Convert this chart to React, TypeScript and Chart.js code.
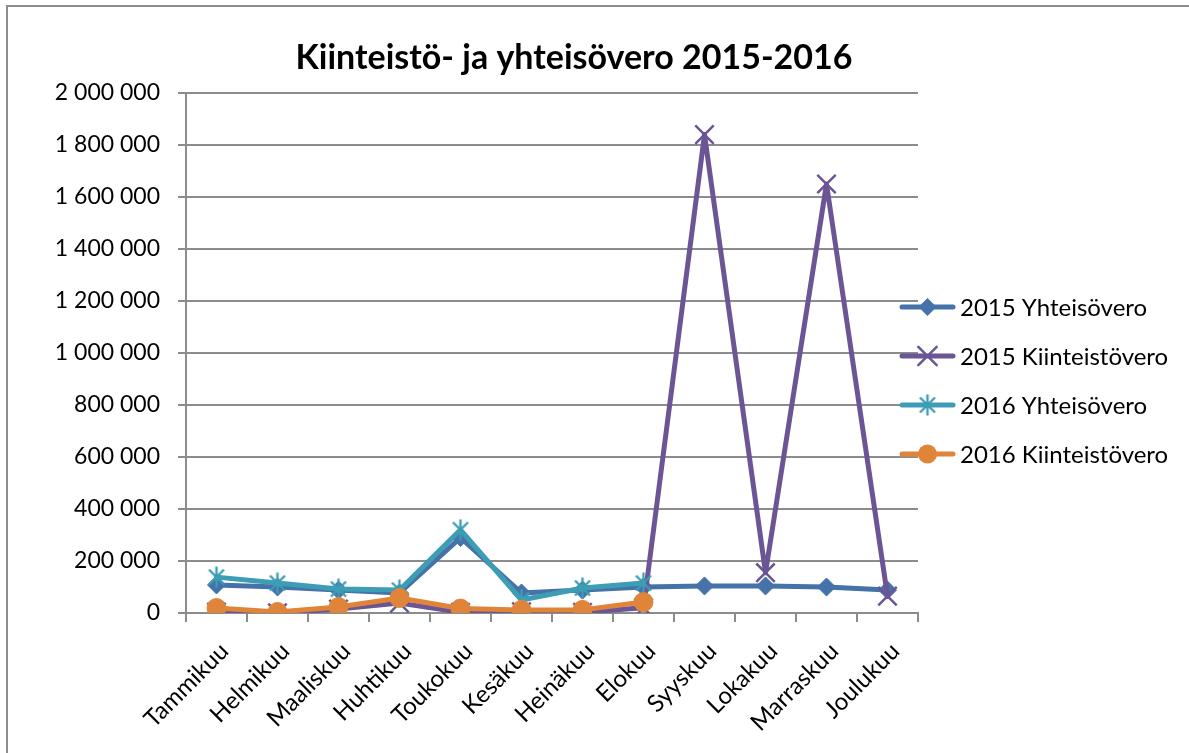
import { useEffect, useRef } from 'react';
import { Chart, registerables } from 'chart.js';

Chart.register(...registerables);

const chartTitle = 'Kiinteistö- ja yhteisövero 2015-2016';
const months = ['Tammikuu', 'Helmikuu', 'Maaliskuu', 'Huhtikuu', 'Toukokuu', 'Kesäkuu', 'Heinäkuu', 'Elokuu', 'Syyskuu', 'Lokakuu', 'Marraskuu', 'Joulukuu'];
const seriesLabels = ['2015 Yhteisövero', '2015 Kiinteistövero', '2016 Yhteisövero', '2016 Kiinteistövero'];
const yhteisovero2015 = [108000, 100000, 88000, 77000, 290000, 77000, 88000, 100000, 104000, 104000, 100000, 88000];
const kiinteistovero2015 = [4000, 1000, 15000, 38000, 3000, 5000, 3000, 20000, 1840000, 155000, 1650000, 65000];
const yhteisovero2016 = [138000, 115000, 92000, 88000, 320000, 50000, 96000, 115000, null, null, null, null];
const kiinteistovero2016 = [19000, 4000, 23000, 58000, 17000, 12000, 12000, 42000, null, null, null, null];
const yMin = 0;
const yMax = 2000000;
const yStep = 200000;

const W = 1189;
const H = 753;
const FONT = 'Lato, "Open Sans", sans-serif';
const GRID = '#8c8c8c';
const COLORS = ['#4472a9', '#6b5595', '#3d9db4', '#e0843a'];

function starImage(color: string) {
  const c = document.createElement('canvas');
  c.width = 22;
  c.height = 22;
  const g = c.getContext('2d')!;
  g.strokeStyle = color;
  g.lineWidth = 2.4;
  g.beginPath();
  g.moveTo(3.5, 3.5); g.lineTo(18.5, 18.5);
  g.moveTo(18.5, 3.5); g.lineTo(3.5, 18.5);
  g.moveTo(11, 0.5); g.lineTo(11, 21.5);
  g.stroke();
  return c;
}

function fmt(v: number) {
  return String(Math.round(v)).replace(/\B(?=(\d{3})+(?!\d))/g, ' ');
}

function drawMarker(ctx: CanvasRenderingContext2D, ds: any, x: number, y: number) {
  const color = ds.borderColor;
  ctx.save();
  ctx.fillStyle = color;
  ctx.strokeStyle = color;
  const style = ds.pointStyle;
  if (style === 'rectRot') {
    const r = ds.pointRadius;
    ctx.beginPath();
    ctx.moveTo(x - r, y); ctx.lineTo(x, y - r); ctx.lineTo(x + r, y); ctx.lineTo(x, y + r);
    ctx.closePath();
    ctx.fill();
  } else if (style === 'crossRot') {
    const o = ds.pointRadius * Math.SQRT1_2;
    ctx.lineWidth = ds.pointBorderWidth;
    ctx.beginPath();
    ctx.moveTo(x - o, y - o); ctx.lineTo(x + o, y + o);
    ctx.moveTo(x + o, y - o); ctx.lineTo(x - o, y + o);
    ctx.stroke();
  } else if (style === 'circle') {
    ctx.beginPath();
    ctx.arc(x, y, ds.pointRadius, 0, Math.PI * 2);
    ctx.fill();
  } else if (style instanceof HTMLCanvasElement) {
    ctx.drawImage(style, x - style.width / 2, y - style.height / 2);
  }
  ctx.restore();
}

const decor = {
  id: 'decor',
  beforeDraw(chart: any) {
    const ctx = chart.ctx;
    ctx.save();
    ctx.fillStyle = '#ffffff';
    ctx.fillRect(0, 0, W, H);
    ctx.strokeStyle = GRID;
    ctx.lineWidth = 2;
    ctx.strokeRect(7, 6, W + 20, H + 20);
    ctx.restore();
  },
  afterDraw(chart: any) {
    const ctx = chart.ctx;
    ctx.save();
    ctx.fillStyle = '#000';
    ctx.font = `bold 34px ${FONT}`;
    ctx.textAlign = 'center';
    ctx.textBaseline = 'alphabetic';
    ctx.fillText(chartTitle, 574, 69);

    const legendY = [307, 356, 405, 454];
    chart.data.datasets.forEach((ds: any, i: number) => {
      const y = legendY[i];
      ctx.strokeStyle = ds.borderColor;
      ctx.lineWidth = 5;
      ctx.lineCap = 'round';
      ctx.beginPath();
      ctx.moveTo(902, y);
      ctx.lineTo(953, y);
      ctx.stroke();
      drawMarker(ctx, ds, 927.5, y);
      ctx.fillStyle = '#000';
      ctx.font = `24px ${FONT}`;
      ctx.textAlign = 'left';
      ctx.textBaseline = 'middle';
      ctx.fillText(ds.label, 960, y + 1);
    });
    ctx.restore();
  },
};

export default function App() {
  const ref = useRef<HTMLCanvasElement>(null);

  useEffect(() => {
    if (!ref.current) return;
    const base = { borderWidth: 5, borderJoinStyle: 'round', borderCapStyle: 'round', tension: 0, spanGaps: false };
    const chart = new Chart(ref.current, {
      type: 'line',
      data: {
        labels: months,
        datasets: [
          { ...base, label: seriesLabels[0], data: yhteisovero2015, borderColor: COLORS[0], backgroundColor: COLORS[0], pointStyle: 'rectRot', pointRadius: 9, pointBorderWidth: 1, pointBackgroundColor: COLORS[0], pointBorderColor: COLORS[0], order: 4 },
          { ...base, label: seriesLabels[1], data: kiinteistovero2015, borderColor: COLORS[1], backgroundColor: COLORS[1], pointStyle: 'crossRot', pointRadius: 13, pointBorderWidth: 2.5, pointBorderColor: COLORS[1], order: 3 },
          { ...base, label: seriesLabels[2], data: yhteisovero2016, borderColor: COLORS[2], backgroundColor: COLORS[2], pointStyle: starImage(COLORS[2]), pointRadius: 10, order: 2 },
          { ...base, label: seriesLabels[3], data: kiinteistovero2016, borderColor: COLORS[3], backgroundColor: COLORS[3], pointStyle: 'circle', pointRadius: 9.5, pointBorderWidth: 1, pointBackgroundColor: COLORS[3], pointBorderColor: COLORS[3], order: 1 },
        ] as any,
      },
      options: {
        responsive: false,
        animation: false,
        layout: { padding: { top: 93, right: 271, bottom: 0, left: 0 } },
        font: { family: FONT },
        plugins: {
          legend: { display: false },
          title: { display: false },
          tooltip: { enabled: false },
        },
        scales: {
          x: {
            type: 'category',
            offset: true,
            grid: { display: true, drawOnChartArea: false, drawTicks: true, tickLength: 9, offset: true, color: GRID, lineWidth: 2 },
            border: { display: true, color: GRID, width: 2 },
            ticks: { minRotation: 45, maxRotation: 45, autoSkip: false, labelOffset: 8, padding: 15, color: '#000', font: { family: FONT, size: 24 } },
            afterFit: (s: any) => { s.height = H - 613; },
          },
          y: {
            min: yMin,
            max: yMax,
            grid: { color: GRID, lineWidth: 2, tickLength: 8, drawTicks: true },
            border: { display: true, color: GRID, width: 2 },
            ticks: { stepSize: yStep, padding: 18, color: '#000', font: { family: FONT, size: 23 }, callback: (v: any) => fmt(Number(v)) },
            afterFit: (s: any) => { s.width = 186; },
          },
        },
      } as any,
      plugins: [decor],
    });
    return () => chart.destroy();
  }, []);

  return (
    <div style={{ position: 'absolute', left: 0, top: 0, width: W, height: H, overflow: 'hidden' }}>
      <canvas ref={ref} width={W} height={H} style={{ display: 'block', width: W, height: H }} />
    </div>
  );
}
